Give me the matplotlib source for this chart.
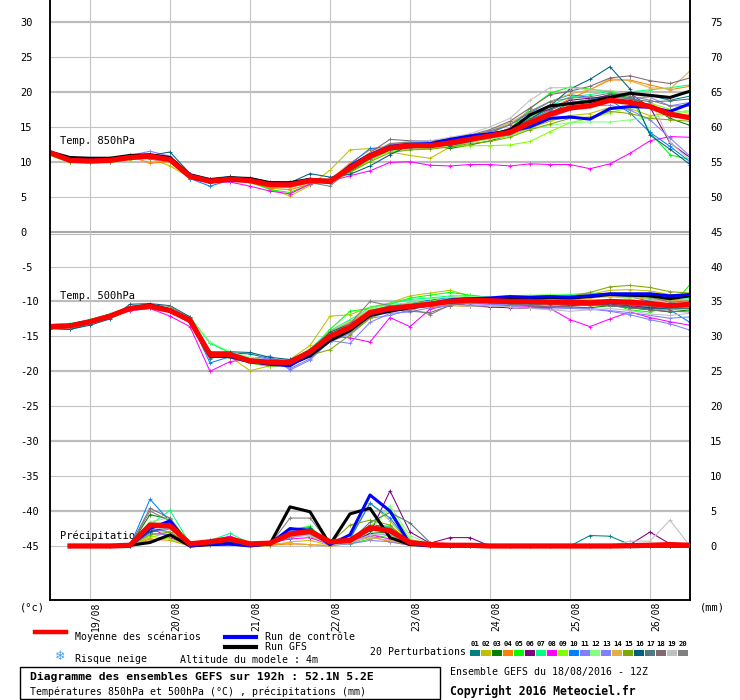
import matplotlib
matplotlib.use("Agg")
import matplotlib.pyplot as plt
import matplotlib.transforms as mtransforms
from matplotlib.lines import Line2D
from matplotlib.patches import Rectangle

plt.rcParams['font.family'] = ['DejaVu Sans Mono', 'DejaVu Sans']
plt.rcParams['axes.unicode_minus'] = False

# forecast steps (hours from 18/08 12Z)
hours = list(range(0, 193, 6))
rain_hours = list(range(6, 193, 6))
day_hours = [12, 36, 60, 84, 108, 132, 156, 180]
day_labels = ['19/08', '20/08', '21/08', '22/08', '23/08', '24/08', '25/08', '26/08']

member_names = ['01', '02', '03', '04', '05', '06', '07', '08', '09', '10',
                '11', '12', '13', '14', '15', '16', '17', '18', '19', '20']
member_colors = ['#008080', '#c0c000', '#008000', '#ff8000', '#00ff00',
                 '#800080', '#00ff80', '#ff00ff', '#80ff00', '#0080ff',
                 '#8080ff', '#80ff80', '#8080ff', '#e0b040', '#80a800',
                 '#006080', '#507880', '#806870', '#c0c0c0', '#808080']

# 850 hPa temperature
t850_mean = [11.3, 10.2, 10.1, 10.2, 10.6, 10.8, 10.3, 7.9, 7.2, 7.5, 7.3, 6.7, 6.7, 7.3, 7.2, 9.1, 10.8,
             12.0, 12.3, 12.3, 12.7, 13.2, 13.7, 14.2, 15.6, 16.8, 17.7, 18.0, 18.8, 18.5, 17.9, 16.8, 16.3]
t850_ctrl = [11.2, 10.3, 10.2, 10.3, 10.7, 10.9, 10.4, 8.0, 7.3, 7.4, 7.4, 6.8, 6.8, 7.4, 7.0, 9.4, 11.0,
             12.2, 12.5, 12.6, 13.2, 13.7, 14.0, 14.3, 15.0, 16.2, 16.4, 16.1, 17.6, 17.9, 17.8, 17.2, 18.3]
t850_gfs = [11.4, 10.6, 10.5, 10.5, 10.9, 11.0, 10.6, 8.1, 7.4, 7.7, 7.6, 7.0, 7.0, 7.5, 7.2, 9.3, 11.0,
            12.0, 12.2, 12.3, 12.8, 13.4, 13.9, 14.5, 16.7, 18.0, 18.3, 18.6, 19.2, 19.8, 19.5, 19.2, 20.1]
t850_members = [
    [11.1, 10.0, 10.0, 10.1, 10.5, 10.9, 10.6, 8.0, 7.4, 7.7, 7.6, 6.9, 6.8, 7.2, 7.0, 8.6, 10.3,
     11.6, 12.0, 12.1, 12.6, 13.2, 13.8, 14.6, 16.2, 17.6, 18.5, 18.8, 19.6, 19.8, 19.5, 18.8, 19.4],
    [11.0, 10.1, 10.0, 10.2, 10.6, 10.5, 9.4, 7.7, 7.0, 7.3, 7.0, 6.1, 5.1, 6.6, 8.8, 11.7, 11.9,
     11.4, 10.9, 10.5, 12.1, 12.8, 13.3, 13.8, 14.8, 15.8, 16.6, 16.9, 17.8, 17.6, 16.6, 17.0, 17.3],
    [11.0, 10.2, 10.0, 10.0, 10.4, 10.6, 10.1, 7.9, 7.3, 7.6, 7.6, 7.0, 7.1, 7.5, 7.3, 8.6, 10.2,
     11.7, 12.3, 12.4, 11.9, 12.4, 13.0, 13.8, 15.4, 17.0, 18.4, 18.9, 19.6, 19.2, 18.0, 16.2, 15.2],
    [11.3, 10.4, 10.3, 10.5, 10.8, 9.8, 10.0, 7.6, 7.0, 7.4, 7.2, 6.2, 6.0, 6.8, 7.4, 9.8, 11.7,
     12.4, 12.6, 12.5, 12.9, 13.3, 14.0, 15.4, 16.5, 17.6, 19.0, 20.3, 21.7, 21.7, 21.0, 20.3, 20.8],
    [10.9, 9.9, 9.9, 10.0, 10.4, 10.7, 10.2, 7.8, 7.2, 7.6, 7.2, 6.0, 5.6, 6.8, 7.2, 9.0, 10.7,
     12.2, 12.4, 12.3, 12.8, 13.3, 14.0, 14.7, 17.6, 19.8, 20.7, 20.4, 20.0, 19.4, 14.2, 11.0, 10.3],
    [11.2, 10.3, 10.3, 10.4, 10.8, 11.0, 10.5, 8.2, 7.5, 7.8, 7.7, 7.1, 7.0, 7.4, 7.3, 9.0, 10.6,
     11.9, 12.2, 12.3, 12.6, 13.1, 13.8, 14.8, 16.7, 17.5, 18.8, 19.1, 19.4, 19.8, 17.8, 12.7, 10.6],
    [11.0, 10.1, 10.1, 10.2, 10.6, 10.8, 10.4, 8.1, 7.6, 7.5, 7.5, 6.9, 6.8, 7.6, 7.1, 9.2, 11.1,
     12.5, 12.6, 12.6, 13.1, 13.6, 14.0, 14.6, 16.4, 18.0, 19.3, 19.6, 20.1, 20.0, 20.3, 20.6, 21.0],
    [11.2, 10.2, 10.0, 10.0, 10.6, 10.4, 10.0, 7.6, 7.0, 7.1, 6.5, 5.8, 5.4, 6.8, 7.2, 8.0, 8.7,
     9.9, 10.0, 9.5, 9.4, 9.6, 9.6, 9.4, 9.7, 9.6, 9.6, 9.0, 9.7, 11.2, 13.0, 13.6, 13.5],
    [10.9, 9.9, 9.8, 9.9, 10.3, 10.5, 10.0, 7.7, 7.1, 7.4, 7.1, 6.6, 6.4, 7.0, 7.0, 8.4, 10.2,
     11.5, 11.8, 11.9, 12.2, 12.3, 12.3, 12.4, 12.9, 14.3, 15.6, 16.2, 17.0, 17.8, 18.4, 17.5, 16.9],
    [11.2, 10.3, 10.2, 10.3, 10.7, 10.9, 10.5, 7.6, 6.5, 7.4, 7.2, 6.6, 6.6, 7.3, 7.2, 9.6, 11.9,
     12.1, 12.2, 12.6, 13.1, 13.5, 14.2, 15.3, 17.0, 18.6, 19.6, 19.2, 18.8, 17.0, 14.2, 12.2, 10.0],
    [11.3, 10.4, 10.3, 10.4, 10.9, 11.5, 10.8, 8.0, 7.4, 7.6, 7.4, 6.8, 6.9, 7.3, 7.3, 9.1, 10.7,
     12.4, 12.9, 13.0, 13.2, 13.6, 13.5, 14.0, 15.2, 16.3, 17.4, 18.3, 19.4, 19.1, 19.2, 18.0, 18.5],
    [11.1, 10.2, 10.1, 10.2, 10.6, 10.8, 10.3, 7.8, 7.2, 7.5, 7.4, 6.8, 6.8, 7.3, 7.1, 8.8, 10.3,
     11.7, 12.0, 12.0, 12.4, 12.8, 13.2, 13.7, 14.6, 15.2, 15.6, 15.7, 15.7, 16.0, 16.3, 16.8, 17.4],
    [11.2, 10.3, 10.2, 10.3, 10.7, 10.8, 10.4, 7.8, 7.2, 7.4, 7.3, 6.8, 6.7, 7.3, 7.2, 9.1, 10.8,
     12.0, 12.3, 12.4, 12.8, 13.3, 13.8, 14.4, 15.8, 17.2, 17.9, 18.0, 18.1, 17.4, 16.0, 13.4, 10.8],
    [11.3, 10.3, 10.2, 10.3, 10.8, 11.0, 10.6, 8.0, 7.3, 7.5, 7.3, 6.4, 6.3, 7.0, 7.5, 9.5, 11.2,
     12.5, 12.5, 12.4, 12.9, 13.6, 14.4, 15.6, 17.2, 18.6, 19.7, 20.3, 21.9, 21.6, 20.6, 20.4, 23.0],
    [11.0, 10.0, 10.0, 10.1, 10.5, 10.6, 10.2, 7.9, 7.4, 7.6, 7.4, 6.9, 6.9, 7.2, 7.0, 8.5, 10.0,
     11.3, 11.7, 11.8, 12.1, 12.6, 12.9, 13.5, 14.6, 15.4, 16.2, 16.4, 17.2, 16.9, 16.2, 16.0, 15.8],
    [11.2, 10.3, 10.2, 10.2, 10.7, 10.9, 11.4, 8.3, 7.6, 7.9, 7.5, 6.9, 7.0, 8.3, 7.8, 8.2, 9.4,
     11.0, 12.4, 12.5, 12.3, 12.9, 13.7, 14.5, 16.0, 18.0, 20.4, 21.8, 23.6, 20.4, 13.8, 11.8, 9.6],
    [11.1, 10.1, 10.0, 10.1, 10.5, 10.7, 10.3, 7.9, 7.3, 7.6, 7.5, 7.0, 6.9, 7.4, 7.1, 8.8, 10.4,
     11.7, 12.0, 12.1, 12.6, 13.2, 13.7, 14.4, 16.0, 17.4, 18.5, 18.8, 19.3, 19.0, 18.6, 18.7, 19.0],
    [11.3, 10.4, 10.4, 10.5, 10.9, 11.1, 10.7, 8.1, 7.4, 7.7, 7.5, 7.0, 7.0, 7.6, 7.5, 9.4, 11.3,
     13.2, 13.0, 12.9, 13.3, 13.8, 14.6, 15.8, 17.7, 19.6, 20.1, 20.8, 22.0, 22.3, 21.6, 21.2, 22.0],
    [11.2, 10.3, 10.2, 10.3, 10.8, 11.0, 10.6, 8.0, 7.3, 7.5, 7.3, 6.8, 6.8, 7.3, 7.2, 9.2, 11.2,
     12.6, 12.9, 13.0, 13.5, 14.0, 15.0, 16.2, 18.8, 20.6, 20.6, 20.3, 20.2, 19.7, 19.2, 12.8, 10.2],
    [11.2, 10.2, 10.1, 10.2, 10.6, 10.8, 10.3, 7.8, 7.2, 7.5, 7.2, 6.7, 6.8, 7.0, 6.5, 8.9, 11.0,
     12.6, 12.8, 12.6, 13.2, 13.7, 14.4, 15.3, 17.2, 18.6, 19.1, 19.3, 19.8, 19.4, 18.8, 18.0, 18.0],
]

# 500 hPa temperature
t500_mean = [-13.6, -13.5, -12.9, -12.1, -11.0, -10.7, -11.3, -12.7, -17.6, -17.6, -18.5, -18.7, -18.7,
             -17.2, -15.0, -13.7, -11.6, -11.0, -10.7, -10.4, -10.0, -9.8, -9.9, -10.0, -10.0, -10.1,
             -10.1, -10.2, -10.0, -10.1, -10.3, -10.6, -10.4]
t500_ctrl = [-13.6, -13.4, -12.9, -12.1, -11.0, -10.6, -11.2, -12.8, -17.8, -17.9, -18.6, -19.0, -19.2,
             -17.5, -15.2, -13.8, -11.8, -11.2, -10.8, -10.3, -9.8, -9.6, -9.5, -9.3, -9.4, -9.3,
             -9.4, -9.2, -8.9, -8.9, -8.9, -9.2, -9.0]
t500_gfs = [-13.7, -13.4, -12.8, -12.0, -10.9, -10.5, -11.2, -12.9, -17.8, -17.8, -18.6, -18.9, -19.0,
            -17.8, -15.6, -14.2, -12.0, -11.4, -10.9, -10.5, -10.0, -9.8, -9.7, -9.5, -9.6, -9.4,
            -9.5, -9.3, -9.0, -9.1, -9.2, -9.6, -9.2]
t500_members = [
    [-13.8, -14.0, -13.2, -12.4, -11.2, -10.8, -11.2, -12.9, -18.2, -17.4, -17.5, -18.2, -18.6, -17.3, -14.6,
     -13.3, -11.3, -10.8, -10.4, -10.0, -9.6, -9.3, -9.5, -9.7, -9.8, -9.6, -9.8, -9.9, -10.2, -10.5, -10.9,
     -10.8, -10.6],
    [-13.4, -13.3, -12.8, -12.0, -10.9, -10.6, -11.1, -12.6, -17.8, -17.9, -19.9, -19.2, -18.3, -16.3, -12.1,
     -11.9, -10.8, -10.2, -9.2, -8.8, -8.4, -9.2, -9.4, -9.4, -9.3, -9.5, -9.2, -9.0, -8.4, -8.3, -8.5,
     -9.0, -9.3],
    [-13.6, -13.5, -12.9, -12.1, -11.0, -10.7, -11.3, -12.8, -17.6, -18.0, -18.8, -19.3, -19.0, -17.8, -15.5,
     -13.8, -11.8, -11.2, -10.7, -10.4, -10.1, -10.0, -10.2, -10.4, -10.6, -10.8, -10.8, -10.9, -10.6, -10.9,
     -11.2, -11.5, -11.2],
    [-13.5, -13.4, -12.8, -12.0, -10.9, -10.6, -11.2, -12.5, -17.4, -17.6, -18.3, -18.4, -18.4, -17.0, -14.4,
     -13.0, -11.4, -11.1, -11.0, -10.7, -10.6, -10.7, -10.6, -10.8, -10.9, -10.7, -10.5, -10.6, -10.4, -10.7,
     -11.0, -11.2, -11.0],
    [-13.3, -13.2, -12.7, -11.9, -10.9, -10.6, -11.0, -12.3, -15.9, -17.4, -18.5, -18.7, -18.4, -17.0, -14.0,
     -11.4, -11.0, -10.4, -9.5, -9.1, -8.7, -9.1, -9.4, -9.5, -9.6, -9.8, -9.7, -9.8, -10.3, -11.2, -11.5,
     -10.8, -7.6],
    [-13.6, -13.5, -12.9, -12.2, -11.1, -10.8, -11.4, -12.9, -17.8, -17.8, -18.6, -18.9, -19.1, -17.6, -15.4,
     -14.0, -12.2, -11.3, -10.8, -10.5, -10.3, -10.6, -10.8, -10.9, -11.0, -10.8, -10.6, -10.5, -10.4, -10.6,
     -10.9, -11.0, -10.9],
    [-13.3, -13.2, -12.6, -11.8, -10.8, -10.5, -11.0, -12.2, -16.0, -17.3, -18.2, -18.6, -18.5, -16.8, -14.2,
     -12.6, -10.9, -10.3, -9.7, -9.5, -9.2, -9.2, -9.4, -9.3, -9.2, -9.1, -9.0, -8.8, -8.9, -9.2, -9.6,
     -9.8, -9.6],
    [-13.7, -13.6, -13.0, -12.2, -11.3, -11.0, -12.1, -13.6, -20.0, -18.6, -18.3, -18.8, -18.9, -17.5, -15.0,
     -15.2, -15.8, -12.3, -13.6, -11.1, -10.5, -10.2, -10.4, -10.6, -10.7, -11.0, -12.6, -13.6, -12.5, -11.5,
     -12.3, -12.9, -13.4],
    [-13.4, -13.3, -12.8, -12.0, -10.9, -10.6, -11.1, -12.5, -17.2, -17.8, -18.8, -19.3, -19.1, -17.5, -15.0,
     -13.3, -11.3, -10.6, -10.2, -9.9, -9.7, -9.6, -9.7, -9.8, -9.7, -9.5, -9.6, -9.7, -9.8, -10.0, -10.6,
     -11.0, -10.8],
    [-13.6, -13.5, -12.9, -12.1, -11.0, -10.7, -11.3, -12.7, -18.8, -17.9, -18.6, -18.9, -19.0, -17.6, -15.2,
     -13.5, -11.4, -10.6, -10.2, -9.8, -9.4, -9.5, -9.6, -9.7, -9.6, -9.5, -9.3, -9.4, -9.2, -9.3, -10.0,
     -11.2, -13.0],
    [-13.5, -13.4, -12.9, -12.1, -11.0, -10.7, -11.2, -12.6, -17.6, -17.8, -18.2, -17.8, -19.8, -18.4, -15.6,
     -16.0, -13.0, -11.7, -11.5, -10.9, -10.6, -10.5, -10.6, -10.7, -10.9, -11.1, -11.0, -11.1, -11.4, -11.9,
     -12.6, -13.2, -14.1],
    [-13.4, -13.3, -12.8, -12.0, -10.9, -10.6, -11.1, -12.4, -15.8, -17.2, -18.0, -18.5, -18.7, -17.2, -14.6,
     -12.8, -11.0, -10.5, -10.2, -9.6, -9.4, -9.3, -9.3, -9.2, -9.1, -9.0, -9.1, -9.2, -9.3, -9.6, -10.4,
     -10.8, -10.7],
    [-13.6, -13.5, -12.9, -12.1, -11.0, -10.8, -11.4, -12.8, -17.7, -17.9, -18.4, -18.1, -19.6, -18.2, -15.8,
     -14.6, -12.4, -12.0, -11.2, -10.5, -10.2, -10.3, -10.4, -10.5, -10.5, -10.7, -10.9, -11.0, -11.3, -11.6,
     -12.0, -12.4, -12.2],
    [-13.5, -13.4, -12.8, -12.0, -10.9, -10.6, -11.2, -12.6, -17.5, -17.7, -18.4, -18.6, -18.6, -16.9, -14.3,
     -12.9, -11.2, -10.8, -10.4, -10.1, -9.8, -9.7, -9.8, -9.9, -9.8, -9.7, -9.6, -9.5, -9.3, -9.4, -9.7,
     -9.9, -9.8],
    [-13.5, -13.4, -12.9, -12.1, -11.0, -10.7, -11.2, -12.7, -17.7, -18.1, -18.8, -19.0, -18.8, -17.7, -16.9,
     -14.8, -12.4, -11.3, -10.8, -10.5, -10.2, -10.1, -10.0, -10.0, -9.8, -9.5, -9.3, -8.7, -7.9, -7.7, -8.0,
     -8.6, -8.8],
    [-13.9, -14.0, -13.4, -12.5, -10.4, -10.3, -10.6, -12.2, -17.2, -17.2, -17.3, -18.0, -18.3, -17.0, -14.4,
     -13.2, -11.6, -10.9, -10.6, -10.3, -10.0, -9.9, -10.0, -10.1, -10.2, -10.3, -10.2, -10.4, -10.6, -10.8,
     -11.1, -10.9, -11.0],
    [-13.7, -13.6, -13.0, -12.2, -11.1, -10.8, -11.4, -12.9, -18.0, -18.0, -18.7, -19.0, -18.9, -17.4, -15.3,
     -13.9, -11.9, -11.2, -10.8, -10.5, -10.3, -10.2, -10.2, -10.3, -10.4, -10.5, -10.4, -10.5, -10.3, -10.5,
     -10.7, -10.9, -11.0],
    [-13.6, -13.5, -12.9, -12.1, -11.0, -10.7, -11.3, -12.7, -17.8, -17.7, -18.5, -18.8, -18.9, -17.4, -15.1,
     -13.8, -12.0, -11.2, -11.4, -11.6, -10.6, -10.2, -10.1, -10.3, -10.6, -10.8, -10.7, -10.5, -10.6, -10.9,
     -11.2, -11.4, -11.5],
    [-13.5, -13.4, -12.8, -12.0, -11.0, -10.6, -11.2, -12.6, -17.5, -17.7, -18.4, -18.6, -18.6, -17.1, -14.8,
     -13.5, -11.5, -10.7, -10.4, -10.3, -10.5, -10.7, -10.6, -10.8, -11.0, -11.2, -11.4, -11.2, -11.0, -11.3,
     -11.8, -12.0, -11.7],
    [-13.7, -13.6, -13.0, -12.1, -10.8, -10.5, -10.7, -12.4, -17.6, -17.7, -18.4, -18.7, -18.8, -17.3, -14.8,
     -13.2, -10.0, -10.6, -11.0, -11.9, -10.5, -10.2, -10.0, -9.8, -9.6, -9.3, -9.2, -9.0, -8.8, -8.9, -9.4,
     -10.1, -9.9],
]

# 6-hourly precipitation (mm)
rain_mean = [0, 0, 0, 0.1, 3.0, 2.9, 0.3, 0.6, 1.0, 0.3, 0.4, 1.7, 2.1, 0.6, 0.8, 2.6,
             2.2, 0.5, 0.2, 0.1, 0.1, 0, 0, 0, 0, 0, 0, 0, 0.05, 0.1, 0.2, 0.1]
rain_ctrl = [0, 0, 0, 0, 2.5, 3.6, 0, 0.3, 0.3, 0, 0.3, 2.5, 2.2, 0.2, 1.6, 7.3,
             5.0, 0.3, 0, 0, 0, 0, 0, 0, 0, 0, 0, 0, 0, 0, 0, 0]
rain_gfs = [0, 0, 0, 0.1, 0.5, 1.6, 0, 0.2, 0.3, 0.1, 0.3, 5.6, 4.9, 0.2, 4.6, 5.4,
            1.2, 0.2, 0.1, 0, 0, 0, 0, 0, 0, 0, 0, 0, 0, 0, 0, 0]
rain_members = [
    [0, 0, 0, 0, 2.0, 2.4, 0.5, 0.3, 0.5, 0.2, 0.2, 2.0, 2.2, 0.3, 0.8, 3.0, 2.8, 0.6, 0.1, 0, 0, 0, 0, 0, 0, 0, 1.5, 1.4, 0.2, 0, 0, 0],
    [0, 0, 0, 0, 1.2, 2.0, 0, 0.2, 0.6, 0, 0, 0.6, 0.8, 0.1, 1.2, 6.2, 3.6, 0.4, 0, 0, 0, 0, 0, 0, 0, 0, 0, 0, 0, 0, 0, 0],
    [0, 0, 0, 0, 4.5, 3.8, 0.3, 0.5, 0.8, 0.2, 0.3, 1.2, 1.8, 0.2, 0.6, 1.8, 2.0, 0.5, 0.2, 0, 0, 0, 0, 0, 0, 0, 0, 0, 0, 0, 0, 0],
    [0, 0, 0, 0, 1.0, 0.8, 0, 0.4, 0.9, 0.3, 0.1, 0.3, 0.2, 0, 0.4, 1.4, 0.6, 0.1, 0, 0, 0, 0, 0, 0, 0, 0, 0, 0, 0, 0, 0, 0],
    [0, 0, 0, 0, 2.8, 3.4, 0.4, 0.6, 0.8, 0.3, 0.2, 2.4, 2.8, 0.2, 0.3, 1.0, 1.6, 0.3, 0, 0, 0, 0, 0, 0, 0, 0, 0, 0, 0, 0, 0, 0],
    [0, 0, 0, 0, 2.2, 2.6, 0.2, 0.3, 0.5, 0.2, 0.3, 1.6, 2.0, 0.4, 0.5, 1.8, 7.9, 2.0, 0.4, 1.2, 1.2, 0, 0, 0, 0, 0, 0, 0, 0.2, 2.0, 0.3, 0],
    [0, 0, 0, 0, 3.0, 5.1, 0.3, 0.8, 1.8, 0.4, 0.2, 1.4, 2.6, 0.4, 0.6, 2.4, 2.8, 0.5, 0.1, 0, 0, 0, 0, 0, 0, 0, 0, 0, 0, 0, 0, 0],
    [0, 0, 0, 0, 2.6, 1.2, 0.1, 0.8, 1.4, 0.3, 0.5, 1.0, 1.2, 0.2, 0.6, 1.6, 1.0, 0.2, 0, 0, 0, 0, 0, 0, 0, 0, 0, 0, 0, 0, 0, 0],
    [0, 0, 0, 0, 1.4, 1.0, 0, 0.3, 0.4, 0.1, 0.2, 1.5, 2.4, 0.5, 0.8, 2.8, 5.3, 1.0, 0.2, 0, 0, 0, 0, 0, 0, 0, 0, 0, 0, 0, 0, 0],
    [0, 0, 0, 0, 6.7, 3.5, 0.2, 0.2, 0.6, 0.2, 0.3, 1.8, 1.6, 0.1, 1.0, 6.1, 4.0, 0.4, 0, 0, 0, 0, 0, 0, 0, 0, 0, 0, 0, 0, 0, 0],
    [0, 0, 0, 0, 2.4, 2.0, 0.1, 0.4, 0.5, 0.1, 0.2, 2.2, 2.4, 0.3, 0.4, 1.4, 1.8, 0.3, 0, 0, 0, 0, 0, 0, 0, 0, 0, 0, 0, 0, 0, 0],
    [0, 0, 0, 0, 3.5, 4.0, 0.4, 0.6, 1.0, 0.2, 0.1, 1.4, 1.6, 0.2, 0.6, 2.0, 5.7, 1.5, 0.3, 0, 0, 0, 0, 0, 0, 0, 0, 0, 0, 0, 0, 0],
    [0, 0, 0, 0, 1.8, 1.6, 0, 0.5, 0.7, 0.2, 0.3, 1.2, 1.6, 0.1, 0.3, 0.8, 0.6, 0.1, 0, 0, 0, 0, 0, 0, 0, 0, 0, 0, 0, 0, 0, 0],
    [0, 0, 0, 0, 0.8, 1.4, 0.1, 0.5, 0.9, 0.3, 0.3, 0.4, 0.2, 0.1, 0.6, 1.2, 0.8, 0.2, 0, 0, 0, 0, 0, 0, 0, 0, 0, 0, 0, 0, 0, 0],
    [0, 0, 0, 0, 1.6, 2.0, 0.2, 0.3, 0.6, 0.2, 0.2, 1.8, 1.4, 0.4, 3.0, 3.7, 3.0, 0.4, 0.1, 0, 0, 0, 0, 0, 0, 0, 0, 0, 0, 0, 0, 0],
    [0, 0, 0, 0, 2.0, 2.8, 0.5, 0.4, 0.6, 0.2, 0.3, 2.4, 2.6, 0.3, 0.5, 2.2, 2.4, 0.6, 0.1, 0, 0, 0, 0, 0, 0, 0, 0, 0, 0, 0, 0, 0],
    [0, 0, 0, 0, 2.8, 3.0, 0.3, 0.3, 0.5, 0.1, 0.3, 1.8, 2.2, 0.2, 0.7, 3.4, 4.8, 3.3, 0.5, 0, 0, 0, 0, 0, 0, 0, 0, 0, 0, 0, 0, 0],
    [0, 0, 0, 0, 5.4, 4.0, 0.2, 0.4, 0.7, 0.2, 0.2, 1.6, 2.0, 0.4, 0.6, 2.6, 2.5, 0.5, 0.1, 0, 0, 0, 0, 0, 0, 0, 0, 0, 0, 0, 0, 0],
    [0, 0, 0, 0, 2.6, 2.4, 0.2, 0.3, 0.5, 0.1, 0.2, 1.4, 1.5, 0.2, 0.4, 1.6, 1.8, 0.3, 0, 0, 0, 0, 0, 0, 0, 0, 0, 0, 0.7, 0.7, 3.7, 0],
    [0, 0, 0, 0, 5.0, 3.6, 0.3, 0.4, 0.6, 0.2, 0.2, 4.0, 4.0, 0.3, 0.5, 2.8, 2.6, 0.4, 0, 0, 0, 0, 0, 0, 0, 0, 0, 0, 0, 0, 0, 0],
]

W, H = 740, 700


def fx(x):
    return x / W


def fy(y):
    return 1 - y / H


fig = plt.figure(figsize=(7.4, 7.0), dpi=100)
ax = fig.add_axes([fx(50), fy(600), 640 / W, 600 / H])
ax.set_xlim(0, 192)
ax.set_ylim(-52.73, 33.15)
# right scale: temperatures +45 (top), precipitation in mm (bottom)
ax2 = ax.twinx()
ax2.set_ylim(-52.73 + 45, 33.15 + 45)

# grid
for v in range(-45, 31, 5):
    if v == 0:
        ax.axhline(0, color='#a8a8a8', lw=1.5, zorder=0)
        ax.axhline(-0.4, color='#b8b8b8', lw=0.8, zorder=0)
    elif v % 10 == 0:
        ax.axhline(v, color='#bdbdbd', lw=1.6, zorder=0)
    else:
        ax.axhline(v, color='#c4c4c4', lw=0.8, zorder=0)
ax.set_xticks(day_hours)
ax.set_xticklabels(day_labels, rotation=90, fontsize=7)
ax.grid(axis='x', color='#c4c4c4', lw=0.8)
ax.set_axisbelow(True)
ax.tick_params(axis='x', length=0, pad=1.5)
offset = mtransforms.ScaledTranslation(6 / 100, 0, fig.dpi_scale_trans)
for lbl in ax.get_xticklabels():
    lbl.set_transform(lbl.get_transform() + offset)

ax.set_yticks(range(-45, 31, 5))
ax.tick_params(axis='y', length=0, pad=21.6, labelsize=7.5)
for lbl in ax.get_yticklabels():
    lbl.set_horizontalalignment('left')
ax2.set_yticks(range(0, 76, 5))
ax2.tick_params(axis='y', length=0, pad=14.4, labelsize=7.5)

for a in (ax, ax2):
    a.spines['top'].set_visible(False)
    for s in ('left', 'right', 'bottom'):
        a.spines[s].set_linewidth(1.1)
        a.spines[s].set_color('black')

# ensemble members
for vals850, vals500, rain, col in zip(t850_members, t500_members, rain_members, member_colors):
    ax.plot(hours, vals850, color=col, lw=0.75, marker='+', ms=3, mew=0.6, zorder=2)
    ax.plot(hours, vals500, color=col, lw=0.75, marker='+', ms=3, mew=0.6, zorder=2)
    ax2.plot(rain_hours, rain, color=col, lw=0.75, marker='+', ms=3, mew=0.6, zorder=2)

for a, x, series, col, lw in [(ax, hours, t850_gfs, 'black', 2.2), (ax, hours, t500_gfs, 'black', 2.2),
                              (ax, hours, t850_ctrl, '#0000ff', 2.2), (ax, hours, t500_ctrl, '#0000ff', 2.2),
                              (ax, hours, t850_mean, '#ff0000', 3.8), (ax, hours, t500_mean, '#ff0000', 3.8),
                              (ax2, rain_hours, rain_gfs, 'black', 2.2),
                              (ax2, rain_hours, rain_ctrl, '#0000ff', 2.2),
                              (ax2, rain_hours, rain_mean, '#ff0000', 3.8)]:
    a.plot(x, series, color=col, lw=lw, solid_joinstyle='round', zorder=3)

ax.text(3, 12.9, 'Temp. 850hPa', fontsize=7.5, va='center', ha='left')
ax.text(3, -9.2, 'Temp. 500hPa', fontsize=7.5, va='center', ha='left')
ax.text(3, -43.6, 'Précipitation', fontsize=7.5, va='center', ha='left', zorder=5)

# units
fig.text(fx(20), fy(607), '(°c)', fontsize=7.5, va='center', ha='left')
fig.text(fx(700), fy(607), '(mm)', fontsize=7.5, va='center', ha='left')

# legend block
fig.add_artist(Line2D([fx(35), fx(66)], [fy(632), fy(632)], color='#ff0000', lw=3.2))
fig.text(fx(75), fy(637), 'Moyenne des scénarios', fontsize=7.1, va='center')
fig.add_artist(Line2D([fx(225), fx(256)], [fy(637), fy(637)], color='#0000ff', lw=3.0))
fig.text(fx(265), fy(637), 'Run de contrôle', fontsize=7.1, va='center')
fig.add_artist(Line2D([fx(225), fx(256)], [fy(647), fy(647)], color='black', lw=3.0))
fig.text(fx(265), fy(647), 'Run GFS', fontsize=7.1, va='center')
fig.text(fx(60), fy(657), '❄', fontsize=9, color='#4a9ee8', va='center', ha='center',
         family=['DejaVu Sans'])
fig.text(fx(75), fy(659), 'Risque neige', fontsize=7.1, va='center')
fig.text(fx(180), fy(660), 'Altitude du modele : 4m', fontsize=7.1, va='center')
fig.text(fx(370), fy(652), '20 Perturbations', fontsize=7.1, va='center')
for k, (name, col) in enumerate(zip(member_names, member_colors)):
    x0 = 470 + k * 10.95
    fig.add_artist(Rectangle((fx(x0), fy(656)), 10 / W, 6 / H, color=col, lw=0))
    fig.text(fx(x0 + 5), fy(644), name, fontsize=5.2, weight='bold', ha='center', va='center')

fig.add_artist(Rectangle((fx(20), fy(699)), 420 / W, 32 / H, fill=False, edgecolor='black', lw=1))
fig.text(fx(30), fy(677), 'Diagramme des ensembles GEFS sur 192h : 52.1N 5.2E',
         fontsize=8.2, weight='bold', va='center')
fig.text(fx(30), fy(691.5), 'Températures 850hPa et 500hPa (°C) , précipitations (mm)',
         fontsize=7.1, va='center')
fig.text(fx(450), fy(672), 'Ensemble GEFS du 18/08/2016 - 12Z', fontsize=7.1, va='center')
fig.text(fx(450), fy(691), 'Copyright 2016 Meteociel.fr', fontsize=8.3, weight='bold', va='center')

fig.savefig('out.png', dpi=100)
